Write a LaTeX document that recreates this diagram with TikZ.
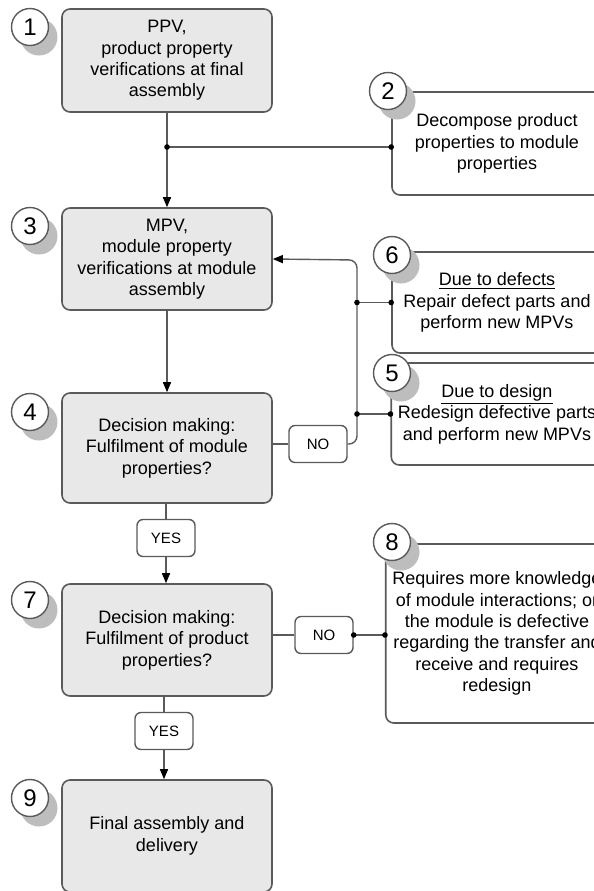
\documentclass[tikz,border=0pt]{standalone}
\usepackage{fontspec}
\setmainfont{Liberation Sans}
\usetikzlibrary{arrows.meta, calc, shadows}
\definecolor{boxgray}{HTML}{E8E8E8}
\definecolor{linegray}{HTML}{5A5A5A}
\definecolor{shadowgray}{HTML}{BDBDBD}

\tikzset{
  phase/.style={draw=linegray, line width=0.8pt, fill=boxgray, rounded corners=4pt,
    minimum width=105pt, align=center, font=\fontsize{9}{10.7}\selectfont},
  action/.style={phase, fill=white},
  num/.style={circle, draw=linegray, line width=0.7pt, fill=white, minimum size=18.5pt,
    inner sep=0pt, font=\fontsize{12}{14}\selectfont,
    drop shadow={shadow xshift=4.5pt, shadow yshift=-5pt, fill=shadowgray, opacity=1}},
  answer/.style={draw=linegray, line width=0.7pt, fill=white, rounded corners=3pt,
    minimum width=29pt, minimum height=18.5pt, inner sep=0pt, font=\fontsize{7.5}{9}\selectfont},
}

\begin{document}
\begin{tikzpicture}[x=0.5pt, y=-0.5pt, >={Triangle[length=5pt, width=4pt, color=black]},
    line width=0.7pt, draw=linegray]
            \useasboundingbox (0,0) rectangle (594,891);

            \node[phase, minimum height=51.5pt] (ppv) at (167,60.5) {PPV,\\product property\\verifications at final\\assembly};
            \node[phase, minimum height=51pt] (mpv) at (167,259) {MPV,\\module property\\verifications at module\\assembly};
            \node[phase, minimum height=55pt] (dec1) at (167,448) {Decision making:\\Fulfilment of module\\properties?};
            \node[phase, minimum height=56pt] (dec2) at (167,640) {Decision making:\\Fulfilment of product\\properties?};
            \node[phase, minimum height=56pt] (final) at (167,836) {Final assembly and\\delivery};

            \node[action, minimum height=51.5pt] (decomp) at (497,143.5) {Decompose product\\properties to module\\properties};
            \node[action, minimum height=50.5pt] (repair) at (497,302.5) {\underline{Due to defects}\\Repair defect parts and\\perform new MPVs};
            \node[action, minimum height=51pt] (redesign) at (497,414) {\underline{Due to design}\\Redesign defective parts\\and perform new MPVs};
            \node[action, minimum height=89.5pt] (know) at (497,633.5) {Requires more knowledge\\of module interactions; or\\the module is defective\\regarding the transfer and\\receive and requires\\redesign};

            \node[num] (n1) at (30,27) {1};
            \node[num] (n2) at (388,91) {2};
            \node[num] (n3) at (30,226) {3};
            \node[num] (n4) at (30,412) {4};
            \node[num] (n5) at (392,373) {5};
            \node[num] (n6) at (392,255) {6};
            \node[num] (n7) at (30,600) {7};
            \node[num] (n8) at (392,542) {8};
            \node[num] (n9) at (30,798) {9};

            \node[answer] (yes1) at (166,538) {YES};
            \node[answer] (no1) at (318,444) {NO};
            \node[answer] (yes2) at (164,731) {YES};
            \node[answer] (no2) at (324,635) {NO};

            \draw[->] (ppv.south) -- (mpv.north);
            \coordinate (j1) at (167,147);
            \draw (j1) -- (j1 -| decomp.west);
            \fill (j1) circle[radius=1.4pt];
            \fill (j1 -| decomp.west) circle[radius=1.4pt];

            \draw[->] (mpv.south) -- (dec1.north);
            \draw (dec1.east |- no1.west) -- (no1.west);
            \coordinate (bus) at (357,260);
            \draw[->, rounded corners=4pt] (no1.east) -| (bus) -- (mpv.east);
            \draw (bus |- repair.west) -- (repair.west);
            \draw (bus |- redesign.west) -- (redesign.west);
            \fill (bus |- redesign.west) circle[radius=1.4pt];
            \fill (bus |- repair.west) circle[radius=1.4pt];
            \fill (repair.west) circle[radius=1.4pt];
            \fill (redesign.west) circle[radius=1.4pt];

            \draw (yes1.north |- dec1.south) -- (yes1.north);
            \draw[->] (yes1.south) -- (yes1.south |- dec2.north);
            \draw (dec2.east |- no2.west) -- (no2.west);
            \draw (no2.east) -- (know.west |- no2.east);
            \fill (no2.east) circle[radius=1.4pt];
            \fill (know.west |- no2.east) circle[radius=1.4pt];

            \draw (yes2.north |- dec2.south) -- (yes2.north);
            \draw[->] (yes2.south) -- (yes2.south |- final.north);
\end{tikzpicture}
\end{document}
